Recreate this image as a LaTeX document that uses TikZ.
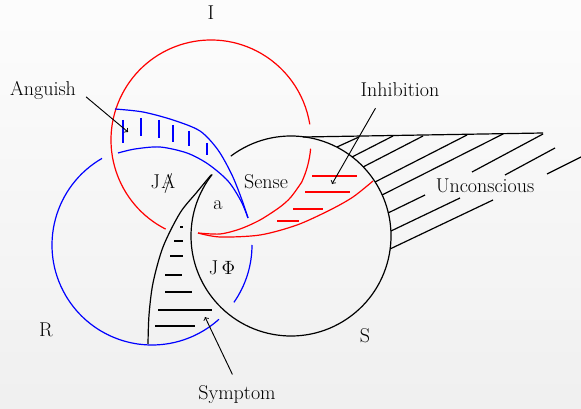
\documentclass[tikz,border=0pt]{standalone}
\usepackage{amsmath, amssymb}

\begin{document}
\begin{tikzpicture}[x=0.75pt, y=-0.75pt, line width=0.9pt,
    txt/.style={font=\fontsize{15}{18}\selectfont, inner sep=1pt},
    pointer/.style={->, black, line width=0.7pt, shorten <=8pt}]
    % Background
    \useasboundingbox (0,0) rectangle (581,409);
    \shade[top color=gray!2, bottom color=gray!12] (0,0) rectangle (581,409);

    % Draw rings
    \draw[red] (211,140) ++(117:100) arc[start angle=117, end angle=351, radius=100];
    \draw[red] (211,140) ++(5:100) arc[start angle=5, end angle=25, radius=100]
        -- plot[smooth] coordinates {(301.6,182.3) (291,197) (280,207) (260,220) (240,229) (220,234) (198,233)};
    \draw[red] plot[smooth] coordinates {(198,233) (220,237) (260,235) (297,225) (330,210) (353,197) (373,181)};

    \draw[blue] (152,245) ++(240:100) arc[start angle=240, end angle=48, radius=100];
    \draw[blue] (152,245) ++(35:100) arc[start angle=35, end angle=0, radius=100];
    \draw[blue] plot[smooth] coordinates {(115,109) (143,112) (173,120) (200,131) (218,150) (232,175) (242,200) (248,218)};
    \draw[blue] plot[smooth] coordinates {(118,153) (135,149) (160,147) (187,153) (208,164) (228,181) (241,201) (248,218)};

    \draw (291,236) ++(-127:100) arc[start angle=-127, end angle=218, radius=100];
    \draw plot[smooth] coordinates {(211,175) (197,192) (180,213) (163,247) (153,283) (149,315) (148,344)};
    \draw (303,137) -- (543,133);

    % Hatching
    \foreach \x/\ya/\yb in {123/120/143, 141/118/136, 159/120/138, 173/125/142, 189/131/146, 207/143/155}
        \draw[blue] (\x,\ya) -- (\x,\yb);
    \foreach \y/\xa/\xb in {176/312/357, 192/305/350, 209/293/323, 221/277/299}
        \draw[red] (\xa,\y) -- (\xb,\y);
    \foreach \y/\xa/\xb in {227/180/183, 241/174/183, 256/170/183, 275/165/182, 292/165/192, 310/158/212, 326/155/195}
        \draw (\xa,\y) -- (\xb,\y);
    \foreach \xa/\ya/\xb/\yb in {337/147/359/137, 352/157/393/136, 363/167/423/136, 375/182/467/135,
        382/195/503/134, 388/213/425/195, 472/172/543/134, 391/231/460/198, 505/175/555/148,
        390/249/493/200, 547/174/581/157}
        \draw (\xa,\ya) -- (\xb,\yb);

    % Labels
    \node[txt] (I) at (211,13) {I};
    \node[txt] (R) at (46,330) {R};
    \node[txt] (S) at (365,336) {S};
    \node[txt] (anguish) at (43,90) {Anguish};
    \node[txt] (inhibition) at (400,90) {Inhibition};
    \node[txt] (unconscious) at (485,186) {Unconscious};
    \node[txt] (sense) at (266,182) {Sense};
    \node[txt] (jabarre) at (163,184) {J\kern1pt\ooalign{A\cr\hidewidth/\hidewidth}};
    \node[txt] (a) at (218,205) {a};
    \node[txt] (jphi) at (222,268) {J\,$\Phi$};
    \node[txt] (symptom) at (237,395) {Symptom};

    % Draw pointers
    \coordinate (anguishtip) at (128,132);
    \coordinate (inhibitiontip) at (332,184);
    \coordinate (symptomtip) at (205,317);
    \draw[pointer] (anguish.east) -- (anguishtip);
    \draw[pointer] (inhibition.-155) -- (inhibitiontip);
    \draw[pointer] (symptom.north) -- (symptomtip);
\end{tikzpicture}
\end{document}
